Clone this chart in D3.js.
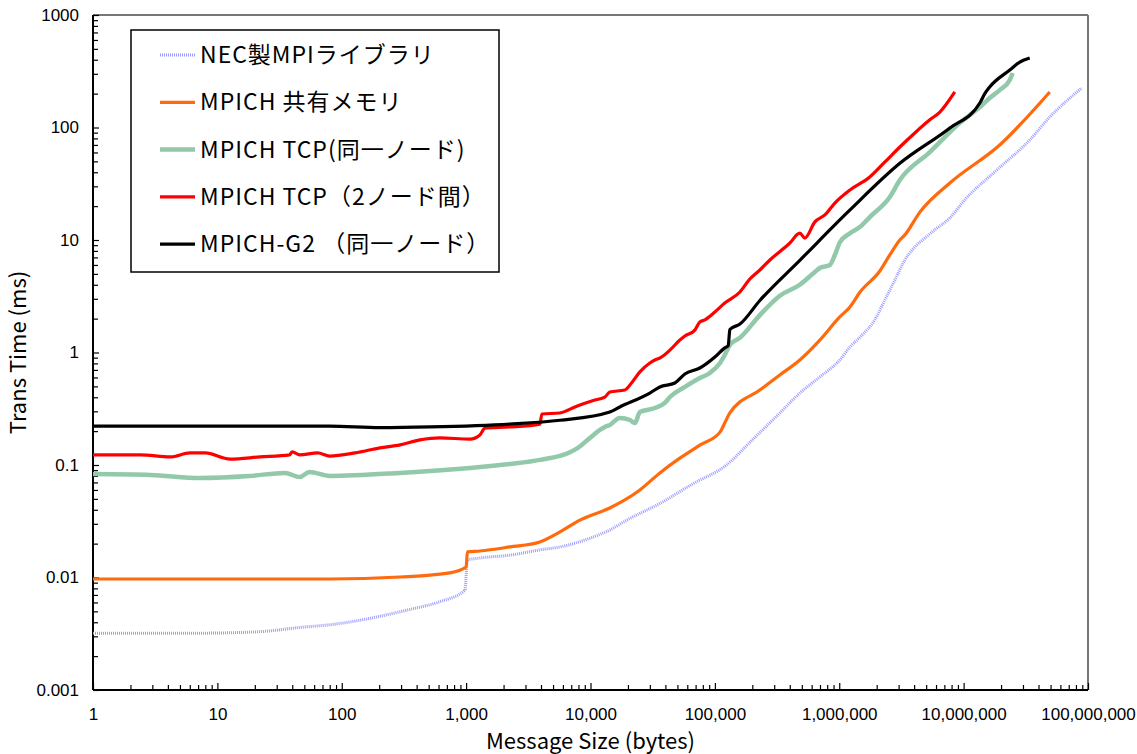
<!DOCTYPE html>
<html>
<head>
<meta charset="utf-8">
<script src="https://d3js.org/d3.v7.min.js"></script>
<style>
body { margin: 0; background: #fff; }
</style>
</head>
<body>
<div id="viz"></div>
<script type="text/javascript">
// message size (bytes) vs transfer time (ms)
var nec = [[1,0.0032],[7,0.0032],[22,0.0033],[46,0.0036],[80,0.0038],[353,0.0052],[616,0.0061],[978,0.0077],
  [1024,0.0143],[1290,0.0149],[2250,0.0158],[3920,0.0176],[5680,0.0187],[10200,0.0226],[14300,0.0264],
  [19600,0.0324],[36100,0.0455],[66500,0.068],[124000,0.1],[200000,0.167],[333000,0.29],[482000,0.436],
  [698000,0.606],[1010000,0.858],[1220000,1.12],[1470000,1.37],[1930000,1.95],[2330000,2.93],[2800000,4.41],
  [3370000,6.64],[4050000,8.67],[4880000,10.4],[5860000,12.3],[7750000,15.7],[10200000,22.7],
  [18500000,41.9],[34000000,77.4],[49300000,124],[89100000,224]];

var shm = [[1,0.0097],[80,0.0097],[294,0.0101],[741,0.011],[1000,0.0124],[1024,0.0169],[1290,0.0172],
  [2250,0.0187],[3920,0.0207],[5680,0.0254],[8220,0.0324],[14300,0.0415],[18900,0.0489],[24950,0.06],
  [36100,0.085],[52300,0.115],[75700,0.15],[110000,0.196],[120000,0.236],[132000,0.29],[230000,0.464],
  [333000,0.631],[482000,0.858],[698000,1.29],[1010000,2.07],[1220000,2.54],[1470000,3.45],[2120000,5.3],
  [2550000,7.36],[3070000,10],[3370000,11.1],[4450000,17.7],[7750000,32.1],[19500000,69.9],[49300000,207]];

var tcpLocal = [[1,0.083],[2.9,0.0815],[7.3,0.0766],[18,0.0798],[35,0.085],[46,0.0782],[55,0.0867],[80,0.08],
  [294,0.085],[1073,0.094],[2250,0.102],[3920,0.111],[6830,0.13],[7920,0.142],[9890,0.174],[11900,0.205],
  [13050,0.218],[14300,0.227],[17200,0.262],[20750,0.251],[22750,0.236],[24950,0.296],[32950,0.321],
  [39600,0.356],[43500,0.402],[57400,0.494],[75700,0.593],[91200,0.658],[110000,0.807],[120000,0.95],
  [132000,1.17],[159000,1.35],[230000,2.15],[333000,3.2],[482000,4.0],[637000,5.2],[698000,5.64],
  [840000,6.0],[922000,7.36],[1010000,9.5],[1220000,11.5],[1470000,13.1],[1760000,16],[2550000,24.1],
  [3070000,34.1],[5350000,60.5],[9330000,110],[13500000,152],[16200000,183],[19500000,215],
  [23500000,264],[24800000,305]];

var tcpRemote = [[1,0.123],[2.4,0.123],[4.2,0.118],[6,0.128],[8,0.128],[12.6,0.113],[22,0.118],[38,0.123],
  [40,0.131],[46,0.123],[64,0.128],[80,0.12],[128,0.128],[203,0.142],[294,0.151],[425,0.167],[616,0.174],
  [1073,0.17],[1290,0.185],[1416,0.213],[2250,0.218],[3920,0.231],[4065,0.284],[5680,0.29],[7490,0.328],
  [8220,0.341],[10840,0.378],[13050,0.402],[14300,0.446],[18900,0.464],[20750,0.514],[24950,0.672],
  [30000,0.807],[32950,0.858],[36100,0.893],[43500,1.05],[52300,1.29],[57400,1.4],[69000,1.58],
  [75700,1.87],[83100,1.95],[100000,2.29],[120000,2.75],[159000,3.45],[191000,4.5],[230000,5.41],
  [277000,6.64],[401000,9.4],[482000,11.5],[529000,10.4],[637000,14.5],[766000,16.7],[922000,21.3],
  [1220000,27.8],[1760000,36.3],[2330000,49.4],[3070000,67.1],[4050000,89.4],[5350000,117],
  [6440000,137],[8490000,207]];

var g2 = [[1,0.222],[80,0.222],[203,0.215],[512,0.218],[2250,0.231],[5700,0.25],[14300,0.296],[17200,0.328],
  [30000,0.436],[36100,0.494],[47700,0.536],[57400,0.644],[75700,0.728],[100000,0.912],[120000,1.1],
  [128000,1.15],[132000,1.6],[159000,1.79],[230000,2.9],[482000,6.6],[1220000,18.5],[3070000,48],
  [7750000,99],[13500000,165],[14800000,200],[16200000,229],[23500000,324],[28300000,382],[34000000,415]];

var seriesNames = ["NEC製MPIライブラリ", "MPICH 共有メモリ", "MPICH TCP(同一ノード)",
                   "MPICH TCP（2ノード間）", "MPICH-G2 （同一ノード）"];
var xTickLabels = ["1", "10", "100", "1,000", "10,000", "100,000", "1,000,000", "10,000,000", "100,000,000"];
var yTickLabels = ["0.001", "0.01", "0.1", "1", "10", "100", "1000"];

var width = 1137, height = 754;
var margin = {top: 15, right: 49, bottom: 64, left: 93};

var svg = d3.select("#viz").append("svg")
    .attr("width", width)
    .attr("height", height);

var x = d3.scaleLog().domain([1, 1e8]).range([margin.left, width - margin.right]);
var y = d3.scaleLog().domain([0.001, 1000]).range([height - margin.bottom, margin.top]);

// tick values: decades and the 2..9 in between
var xMajor = d3.range(0, 9).map(function(e) { return Math.pow(10, e); });
var yMajor = d3.range(-3, 4).map(function(e) { return Math.pow(10, e); });
function minors(majors) {
    var out = [];
    majors.slice(0, -1).forEach(function(m) {
        for (var k = 2; k <= 9; k++) out.push(m * k);
    });
    return out;
}

var numFont = "'Liberation Sans', Arial, sans-serif";
var jpFont = "'Noto Sans CJK JP', 'Noto Sans', sans-serif";

// frame: top and right in grey
svg.append("line").attr("x1", x(1)).attr("x2", x(1e8)).attr("y1", y(1000)).attr("y2", y(1000))
    .attr("stroke", "#777").attr("stroke-width", 2);
svg.append("line").attr("x1", x(1e8)).attr("x2", x(1e8)).attr("y1", y(1000)).attr("y2", y(0.001))
    .attr("stroke", "#777").attr("stroke-width", 2);

function styleAxis(g) {
    g.select(".domain").remove();
    g.selectAll(".tick line").attr("stroke", "#000").attr("stroke-width", 1.2);
}

// y axis
svg.append("g").attr("transform", "translate(" + x(1) + ",0)")
    .call(d3.axisLeft(y).tickValues(minors(yMajor)).tickSize(-5).tickFormat(""))
    .call(styleAxis);
svg.append("g").attr("transform", "translate(" + x(1) + ",0)")
    .call(d3.axisLeft(y).tickValues(yMajor).tickSize(-6).tickPadding(18)
        .tickFormat(function(d, i) { return yTickLabels[i]; }))
    .call(styleAxis)
    .selectAll("text").attr("font-family", numFont).attr("font-size", 17).attr("fill", "#000")
    .attr("dx", 4);

// x axis
svg.append("g").attr("transform", "translate(0," + y(0.001) + ")")
    .call(d3.axisBottom(x).tickValues(minors(xMajor)).tickSize(-5).tickFormat(""))
    .call(styleAxis);
svg.append("g").attr("transform", "translate(0," + y(0.001) + ")")
    .call(d3.axisBottom(x).tickValues(xMajor).tickSize(-7).tickPadding(18)
        .tickFormat(function(d, i) { return xTickLabels[i]; }))
    .call(styleAxis)
    .selectAll("text").attr("font-family", numFont).attr("font-size", 17).attr("fill", "#000");

// left and bottom frame lines in black
svg.append("line").attr("x1", x(1)).attr("x2", x(1)).attr("y1", y(1000)).attr("y2", y(0.001))
    .attr("stroke", "#000").attr("stroke-width", 2);
svg.append("line").attr("x1", x(1)).attr("x2", x(1e8)).attr("y1", y(0.001)).attr("y2", y(0.001))
    .attr("stroke", "#000").attr("stroke-width", 2);

// axis titles
svg.append("text")
    .attr("x", (x(1) + x(1e8)) / 2).attr("y", 749)
    .attr("text-anchor", "middle")
    .attr("font-family", jpFont).attr("font-size", 22)
    .text("Message Size (bytes)");
svg.append("text")
    .attr("transform", "translate(26," + ((y(1000) + y(0.001)) / 2) + ") rotate(-90)")
    .attr("text-anchor", "middle")
    .attr("font-family", jpFont).attr("font-size", 22)
    .text("Trans Time (ms)");

// series
var series = [
    {data: nec, color: "#9c9cff", width: 3, dash: "1,1"},
    {data: shm, color: "#ff6a0d", width: 3.2, dash: null},
    {data: tcpLocal, color: "#92c9aa", width: 4.5, dash: null},
    {data: tcpRemote, color: "#ff0000", width: 3.2, dash: null},
    {data: g2, color: "#000000", width: 3.2, dash: null}
];

var line = d3.line()
    .x(function(d) { return x(d[0]); })
    .y(function(d) { return y(d[1]); })
    .curve(d3.curveMonotoneX);

svg.append("g").selectAll("path")
    .data(series)
    .enter().append("path")
    .attr("d", function(d) { return line(d.data); })
    .attr("fill", "none")
    .attr("stroke", function(d) { return d.color; })
    .attr("stroke-width", function(d) { return d.width; })
    .attr("stroke-dasharray", function(d) { return d.dash; })
    .attr("stroke-linejoin", "round");

// legend
var legend = svg.append("g").attr("transform", "translate(131,30)");
legend.append("rect")
    .attr("x", 0).attr("y", 0).attr("width", 368).attr("height", 242)
    .attr("fill", "#fff").attr("stroke", "#000").attr("stroke-width", 1.5);

var rows = legend.selectAll(".row")
    .data(series)
    .enter().append("g")
    .attr("class", "row")
    .attr("transform", function(d, i) { return "translate(0," + (25 + i * 47.3) + ")"; });

rows.append("line")
    .attr("x1", 29).attr("x2", 64).attr("y1", 0).attr("y2", 0)
    .attr("stroke", function(d) { return d.color; })
    .attr("stroke-width", function(d) { return d.width; })
    .attr("stroke-dasharray", function(d) { return d.dash; });

rows.append("text")
    .attr("x", 69).attr("y", 8)
    .attr("font-family", jpFont).attr("font-size", 23)
    .attr("letter-spacing", 1)
    .attr("fill", "#000")
    .text(function(d, i) { return seriesNames[i]; });
</script>
</body>
</html>
